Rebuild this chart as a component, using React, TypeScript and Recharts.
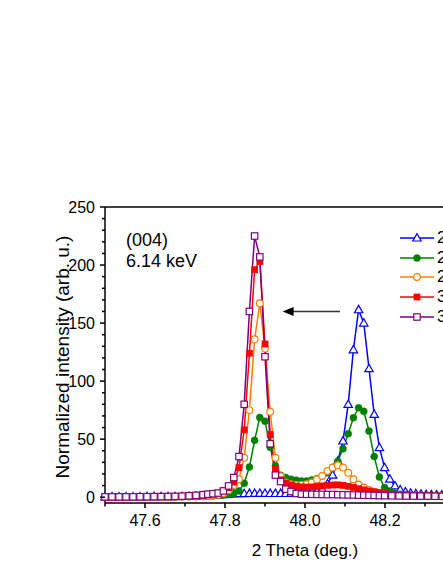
import React from "react";
import { LineChart, Line, XAxis, YAxis, ReferenceLine } from "recharts";

const FONT = '"Liberation Sans", Arial, sans-serif';

// 2 Theta positions (deg.): coarse steps away from the peaks, finer steps across them
const xLeft = [47.5, 47.5175, 47.535, 47.5525, 47.57, 47.5875, 47.605, 47.6225, 47.64, 47.6575, 47.675, 47.6925, 47.71, 47.7275, 47.745];
const xMid = [
  47.757, 47.77, 47.783, 47.796, 47.809, 47.822, 47.835, 47.848, 47.861, 47.874, 47.887, 47.9,
  47.913, 47.926, 47.939, 47.952, 47.965, 47.978, 47.991, 48.004, 48.017, 48.03, 48.043, 48.056,
  48.069, 48.082, 48.095, 48.108, 48.121, 48.134, 48.147, 48.16, 48.173, 48.186, 48.199,
];
const xRightCoarse = [48.217, 48.235, 48.253, 48.271, 48.289, 48.307, 48.325, 48.343, 48.361];
const xRightFine = [48.212, 48.225, 48.238, 48.251, 48.264, 48.277, 48.29, 48.303, 48.316, 48.329, 48.342, 48.355];

// normalized intensities (arb. u.)
const blueY = [
  0.3, 0.3, 0.3, 0.3, 0.3, 0.3, 0.4, 0.4, 0.4, 0.5, 0.5, 0.6, 0.7, 0.9, 1.1,
  1.4, 1.7, 2.0, 2.3, 2.6, 2.8, 3.0, 3.1, 3.2, 3.3, 3.3, 3.3, 3.2, 3.2, 3.2, 3.2, 3.3, 3.4, 3.6,
  3.9, 4.4, 5.2, 7.0, 11.5, 19, 31, 48.4, 80, 127, 161.5, 150, 110.8, 71.3, 42.7, 25.5,
  15.5, 9.7, 6.3, 4.5, 3.5, 3.0, 2.6, 2.3, 2.1, 2.0, 1.9, 1.9,
];
const greenY = [
  0.2, 0.2, 0.2, 0.2, 0.2, 0.2, 0.2, 0.3, 0.3, 0.3, 0.4, 0.4, 0.5, 0.6, 0.7,
  0.9, 1.1, 1.4, 1.9, 2.6, 3.4, 5.4, 12, 26, 49, 68.7, 65.5, 43, 27, 18.9, 17, 15.5, 14.6, 14,
  14, 14.9, 16, 18.3, 21, 25.5, 31, 41.8, 54.7, 68.5, 77, 74, 57, 35, 17.4, 8.3,
  5.4, 3.5, 2.6, 2.1, 1.8, 1.6, 1.4, 1.3, 1.2, 1.1, 1.0, 1.0,
];
const orangeY = [
  0.2, 0.2, 0.2, 0.2, 0.2, 0.3, 0.3, 0.3, 0.3, 0.4, 0.4, 0.5, 0.6, 0.7, 0.9,
  1.1, 1.5, 2.2, 3.5, 6, 10.6, 15.5, 34, 75, 136, 167, 128, 73.6, 34, 18, 12.6, 11.2, 10.6, 10.6,
  11.2, 12.6, 15.5, 18.3, 22.6, 25.5, 27.5, 25.5, 21, 15.5, 11, 8.3, 6.3, 4.6, 3.4, 2.6,
  2.0, 1.6, 1.3, 1.1, 1.0, 0.9, 0.8, 0.8, 0.8,
];
const redY = [
  0.2, 0.2, 0.2, 0.2, 0.2, 0.3, 0.3, 0.3, 0.4, 0.4, 0.5, 0.6, 0.8, 1.0, 1.4,
  1.9, 2.5, 3.5, 5.4, 8.3, 13, 25.5, 58, 124, 196, 203, 132, 54, 24, 15, 12, 10.5, 9.5, 8.9,
  8.7, 8.8, 9.2, 9.7, 10.2, 10.5, 10.6, 10.2, 9.4, 8.4, 7.3, 6.3, 5.4, 4.6, 3.9, 3.3,
  2.6, 2.1, 1.7, 1.4, 1.2, 1.1, 1.0, 1.0, 0.9,
];
const purpleY = [
  0.3, 0.3, 0.3, 0.3, 0.3, 0.4, 0.4, 0.5, 0.5, 0.6, 0.7, 0.9, 1.2, 1.6, 2.1,
  2.6, 3.0, 3.6, 5.4, 9.7, 16.9, 35, 80, 160, 225, 207, 121, 46, 19, 13.5, 6.9, 4.9, 3.2, 2.6,
  2.5, 2.5, 2.4, 2.4, 2.3, 2.3, 2.2, 2.1, 2.0, 1.9, 1.8, 1.7, 1.6, 1.5, 1.4, 1.3,
  1.2, 1.1, 1.0, 1.0, 0.9, 0.9, 0.8, 0.8, 0.8,
];

const seriesNames = ["200 K", "250 K", "280 K", "300 K", "350 K"];

const xTicks = [47.5, 47.6, 47.7, 47.8, 47.9, 48.0, 48.1, 48.2, 48.3, 48.4, 48.5];
const xLabelled = [47.6, 47.8, 48.0, 48.2];
const yTicks = [0, 10, 20, 30, 40, 50, 60, 70, 80, 90, 100, 110, 120, 130, 140, 150, 160, 170, 180, 190, 200, 210, 220, 230, 240, 250];
const yLabelled = [0, 50, 100, 150, 200, 250];

// arrow from the (blue) peak towards the shifted peak: [2theta, intensity]
const arrowFrom = [48.0875, 160];
const arrowTo = [47.944, 160];

const pair = (xs: number[], ys: number[]) => xs.map((x, i) => ({ x, y: ys[i] }));

const series = [
  { name: seriesNames[0], color: "#0000ff", kind: "triangle", data: pair([...xLeft, ...xMid, ...xRightFine], blueY) },
  { name: seriesNames[1], color: "#008000", kind: "dot", data: pair([...xLeft, ...xMid, ...xRightFine], greenY) },
  { name: seriesNames[2], color: "#ff8000", kind: "circle", data: pair([...xLeft, ...xMid, ...xRightCoarse], orangeY) },
  { name: seriesNames[3], color: "#ff0000", kind: "filledSquare", data: pair([...xLeft, ...xMid, ...xRightCoarse], redY) },
  { name: seriesNames[4], color: "#800080", kind: "square", data: pair([...xLeft, ...xMid, ...xRightCoarse], purpleY) },
];

function Marker({ kind, cx, cy, color }: { kind: string; cx: number; cy: number; color: string }) {
  if (kind === "triangle")
    return <polygon points={`${cx},${cy - 4.4} ${cx - 4.2},${cy + 3} ${cx + 4.2},${cy + 3}`} fill="#fff" stroke={color} strokeWidth={1.2} />;
  if (kind === "dot") return <circle cx={cx} cy={cy} r={3.5} fill={color} stroke={color} strokeWidth={0.5} />;
  if (kind === "circle") return <circle cx={cx} cy={cy} r={3.4} fill="#fff" stroke={color} strokeWidth={1.2} />;
  if (kind === "filledSquare") return <rect x={cx - 3.4} y={cy - 3.4} width={6.8} height={6.8} fill={color} />;
  return <rect x={cx - 3.2} y={cy - 3.2} width={6.4} height={6.4} fill="#fff" stroke={color} strokeWidth={1.2} />;
}

const isIn = (arr: number[], v: number) => arr.some((a) => Math.abs(a - v) < 1e-6);

function BottomTick(props: any) {
  const { x, y, payload } = props;
  const major = isIn(xLabelled, payload.value);
  return (
    <g>
      <line x1={x} x2={x} y1={y} y2={y + (major ? 5 : 3.5)} stroke="#000" strokeWidth={1.5} />
      {major && (
        <text x={x} y={y + 23} textAnchor="middle" fontSize={16} fontFamily={FONT} fill="#000">
          {payload.value.toFixed(1)}
        </text>
      )}
    </g>
  );
}

function TopTick(props: any) {
  const { x, y, payload } = props;
  const major = isIn(xLabelled, payload.value);
  return <line x1={x} x2={x} y1={y} y2={y + (major ? 5 : 3.5)} stroke="#000" strokeWidth={1.5} />;
}

function LeftTick(props: any) {
  const { x, y, payload } = props;
  const major = isIn(yLabelled, payload.value);
  return (
    <g>
      <line x1={x} x2={x - (major ? 5 : 3)} y1={y} y2={y} stroke="#000" strokeWidth={1.5} />
      {major && (
        <text x={x - 10} y={y + 5.7} textAnchor="end" fontSize={16} fontFamily={FONT} fill="#000">
          {payload.value}
        </text>
      )}
    </g>
  );
}

function Arrow(props: any) {
  const { x1, y1, x2, y2 } = props;
  return (
    <g>
      <line x1={x1} y1={y1} x2={x2 + 9} y2={y2} stroke="#333" strokeWidth={1.5} />
      <polygon points={`${x2},${y2} ${x2 + 11},${y2 - 4.5} ${x2 + 11},${y2 + 4.5}`} fill="#000" />
    </g>
  );
}

export default function App() {
  return (
    <div
      style={{
        position: "absolute",
        left: 0,
        top: 0,
        width: 443,
        height: 573,
        overflow: "hidden",
        background: "#fff",
        fontFamily: FONT,
        color: "#000",
      }}
    >
      <LineChart width={620} height={573} margin={{ top: 177, right: 115, bottom: 40, left: 55 }}>
        <XAxis
          dataKey="x"
          type="number"
          domain={[47.5, 48.5]}
          ticks={xTicks}
          interval={0}
          height={30}
          tickSize={0}
          tickMargin={0}
          tickLine={false}
          tick={BottomTick}
          axisLine={{ stroke: "#000", strokeWidth: 1.5 }}
        />
        <XAxis
          xAxisId="top"
          orientation="top"
          dataKey="x"
          type="number"
          domain={[47.5, 48.5]}
          ticks={xTicks}
          interval={0}
          height={30}
          tickSize={0}
          tickMargin={0}
          tickLine={false}
          tick={TopTick}
          axisLine={{ stroke: "#000", strokeWidth: 1.5 }}
        />
        <YAxis
          type="number"
          domain={[-5, 250]}
          ticks={yTicks}
          interval={0}
          width={50}
          tickSize={0}
          tickMargin={0}
          tickLine={false}
          tick={LeftTick}
          axisLine={{ stroke: "#000", strokeWidth: 1.5 }}
        />
        {series.map((s) => (
          <Line
            key={s.name}
            data={s.data}
            dataKey="y"
            type="linear"
            stroke={s.color}
            strokeWidth={1.5}
            activeDot={false}
            isAnimationActive={false}
            dot={(p: any) => <Marker key={p.index} kind={s.kind} cx={p.cx} cy={p.cy} color={s.color} />}
          />
        ))}
        <ReferenceLine
          segment={[
            { x: arrowFrom[0], y: arrowFrom[1] },
            { x: arrowTo[0], y: arrowTo[1] },
          ]}
          ifOverflow="visible"
          shape={Arrow}
        />
      </LineChart>

      <div style={{ position: "absolute", left: 126, top: 230, fontSize: 18, lineHeight: "21px" }}>
        (004)
        <br />
        6.14 keV
      </div>

      <div
        style={{
          position: "absolute",
          left: 155,
          top: 541,
          width: 300,
          textAlign: "center",
          fontSize: 17,
          lineHeight: "20px",
        }}
      >
        2 Theta (deg.)
      </div>

      <div
        style={{
          position: "absolute",
          left: 63 - 160,
          top: 357 - 11,
          width: 320,
          height: 22,
          textAlign: "center",
          fontSize: 19,
          lineHeight: "22px",
          transform: "rotate(-90deg)",
          transformOrigin: "center",
        }}
      >
        Normalized intensity (arb. u.)
      </div>

      <div style={{ position: "absolute", left: 398, top: 228 }}>
        {series.map((s) => (
          <div key={s.name} style={{ display: "flex", alignItems: "center", height: 19.7, whiteSpace: "nowrap" }}>
            <svg width={38} height={12} style={{ flex: "none" }}>
              <line x1={2} x2={36} y1={6} y2={6} stroke={s.color} strokeWidth={1.5} />
              <Marker kind={s.kind} cx={19} cy={6} color={s.color} />
            </svg>
            <span style={{ fontSize: 17, marginLeft: 1 }}>{s.name}</span>
          </div>
        ))}
      </div>
    </div>
  );
}
